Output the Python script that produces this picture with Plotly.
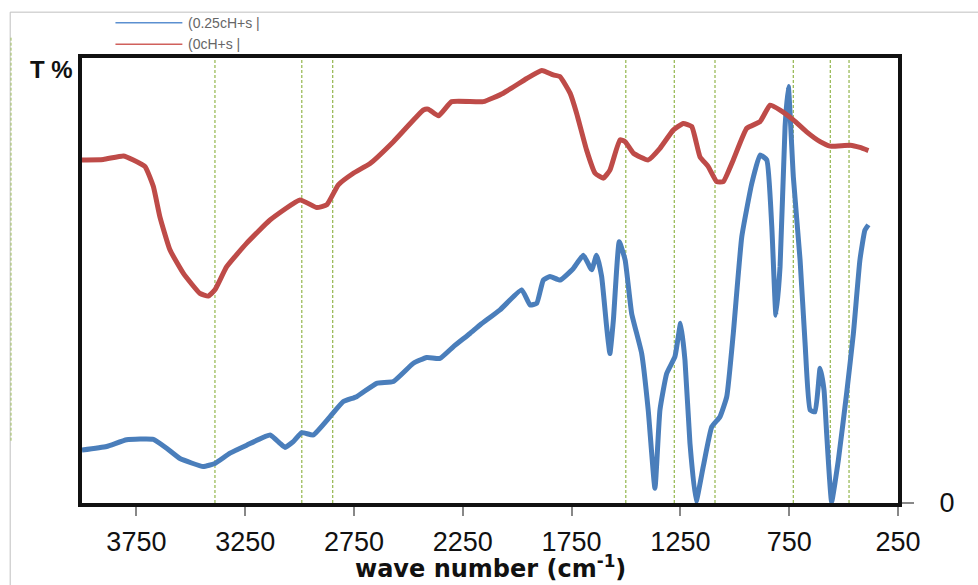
import plotly.graph_objects as go

# ---- data ----
wn_red = [4000, 3902, 3810, 3764, 3710, 3672, 3642, 3596, 3534, 3458, 3420, 3389, 3335, 3243,
          3136, 2998, 2921, 2875, 2822, 2753, 2676, 2569, 2431, 2409, 2362, 2301, 2156, 2064,
          1956, 1887, 1834, 1803, 1757, 1727, 1681, 1642, 1604, 1574, 1528, 1504, 1466, 1398,
          1344, 1283, 1237, 1198, 1160, 1122, 1083, 1053, 1007, 945, 884, 838, 792, 731, 670,
          608, 562, 470, 425, 386]
t_red = [77.1, 77.2, 78.0, 77.1, 75.6, 71.1, 64.3, 56.9, 51.6, 47.1, 46.5, 47.9, 53.1, 58.4,
         63.6, 68.1, 66.4, 67.0, 71.5, 74.1, 76.3, 81.2, 88.3, 88.5, 87.0, 90.2, 90.2, 92.1,
         95.4, 97.2, 96.2, 95.8, 92.1, 87.6, 79.3, 74.1, 73.0, 74.8, 81.6, 81.2, 78.6, 77.1,
         79.7, 83.8, 85.3, 84.6, 77.8, 75.6, 72.2, 72.2, 77.1, 84.2, 85.7, 89.4, 88.3, 86.1, 83.4,
         81.2, 80.2, 80.4, 79.9, 79.2]

wn_blue = [4000, 3887, 3795, 3672, 3611, 3550, 3443, 3389, 3320, 3243, 3136, 3090, 3067, 3029,
           2990, 2937, 2860, 2799, 2738, 2646, 2569, 2477, 2416, 2355, 2294, 2217, 2171, 2079,
           1979, 1941, 1910, 1880, 1849, 1803, 1742, 1696, 1658, 1635, 1612, 1589, 1574, 1558,
           1531, 1504, 1474, 1428, 1398, 1367, 1344, 1313, 1275, 1249, 1229, 1206, 1178, 1145,
           1106, 1068, 1037, 1007, 968, 922, 884, 853, 830, 811, 792, 769, 754, 731, 700, 677,
           654, 631, 608, 590, 578, 555, 524, 486, 455, 425, 402, 386]
t_blue = [11.9, 12.7, 14.2, 14.3, 12.3, 10.0, 8.2, 8.9, 11.2, 13.0, 15.3, 13.4, 12.5, 13.8,
          15.8, 15.3, 19.4, 22.8, 23.9, 26.9, 27.3, 31.4, 32.7, 32.5, 35.1, 38.1, 40.0, 43.4,
          47.9, 44.5, 44.9, 50.1, 50.9, 50.1, 52.7, 55.7, 52.4, 55.7, 50.9, 39.6, 33.6, 41.1,
          58.7, 54.6, 42.6, 33.6, 20.9, 3.3, 20.9, 29.1, 32.9, 40.4, 32.1, 13.4, 0.3, 8.2,
          17.1, 19.4, 23.9, 38.1, 59.8, 71.8, 78.2, 77.1, 62.1, 42.2, 53.1, 84.6, 93.6, 73.3, 54.6, 35.9,
          20.9, 20.5, 30.3, 25.4, 15.7, 0.3, 9.7, 24.7, 38.1, 54.6, 61.3, 62.5]

ref_lines = [3389, 2990, 2848, 1501, 1278, 1091, 731, 561, 475]
x_ticks = [3750, 3250, 2750, 2250, 1750, 1250, 750, 250]
series_names = ["(0.25cH+s |", "(0cH+s |"]

BLUE = "#4A7EBB"
RED = "#BE4B48"
GREEN = "#9BBB59"
FONT = "Liberation Sans, Arial, sans-serif"

fig = go.Figure()
fig.add_trace(go.Scatter(x=wn_blue, y=t_blue, mode="lines", name=series_names[0],
                         line=dict(color=BLUE, width=5, shape="spline", smoothing=0.4)))
fig.add_trace(go.Scatter(x=wn_red, y=t_red, mode="lines", name=series_names[1],
                         line=dict(color=RED, width=5, shape="spline", smoothing=0.4)))

shapes = []
for v in ref_lines:
    shapes.append(dict(type="line", xref="x", yref="paper", x0=v, x1=v, y0=0, y1=1,
                       line=dict(color=GREEN, width=1.3, dash="3px,2px"), layer="below"))

# outer chart border
shapes.append(dict(type="rect", xref="paper", yref="paper", x0=-0.088, x1=1.2, y0=-0.5, y1=1.103,
                   line=dict(color="#BFBFBF", width=1), layer="below"))
shapes.append(dict(type="line", xref="paper", yref="paper", x0=-0.087, x1=-0.087, y0=0.14, y1=1.05,
                   line=dict(color=GREEN, width=1, dash="3px,2px"), layer="below"))

# custom legend
annotations = []
leg_colors = ["#5B8FD0", "#D0605C"]
leg_y = [1.079, 1.031]
for name, col, yy in zip(series_names, leg_colors, leg_y):
    shapes.append(dict(type="line", xref="paper", yref="paper", x0=0.041, x1=0.123, y0=yy, y1=yy,
                       line=dict(color=col, width=1.5)))
    annotations.append(dict(text=name, xref="paper", yref="paper", x=0.128, y=yy, xanchor="left",
                            yanchor="middle", showarrow=False,
                            font=dict(family=FONT, size=14, color="#666666")))

annotations.append(dict(text="<b>T %</b>", xref="paper", yref="paper", x=-0.008, y=0.975,
                        xanchor="right", yanchor="middle", showarrow=False,
                        font=dict(family=FONT, size=24, color="#111111")))
annotations.append(dict(text="<b>wave number (cm<sup>-1</sup>)</b>", xref="paper", yref="paper",
                        x=0.5, y=-0.143, xanchor="center", yanchor="middle", showarrow=False,
                        font=dict(family="DejaVu Sans, sans-serif", size=24, color="#111111")))

fig.update_layout(
    width=978, height=585,
    margin=dict(l=82, r=80, t=58, b=82),
    paper_bgcolor="white", plot_bgcolor="white",
    showlegend=False,
    shapes=shapes, annotations=annotations,
    font=dict(family=FONT, color="#111111"),
    xaxis=dict(range=[4000, 250], tickvals=x_ticks, ticks="outside", ticklen=9, tickwidth=1.5,
               tickcolor="#888888", showgrid=False, zeroline=False, showline=True,
               linecolor="#111111", linewidth=4, mirror=True,
               tickfont=dict(family=FONT, size=27, color="#111111"), ticklabelstandoff=3),
    yaxis=dict(range=[0, 100], side="right", tickvals=[0], ticktext=["0"], ticks="outside",
               ticklen=12, tickwidth=1.5, tickcolor="#888888", showgrid=False, zeroline=False,
               showline=True, linecolor="#111111", linewidth=4, mirror=True,
               tickfont=dict(family=FONT, size=27, color="#111111"), ticklabelstandoff=20),
)

fig.write_html("out.html")
